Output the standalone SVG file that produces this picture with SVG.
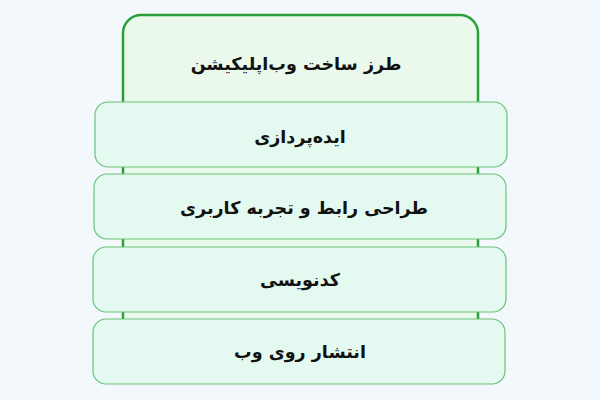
<svg xmlns="http://www.w3.org/2000/svg" width="600" height="400" viewBox="0 0 600 400">
<style>
.bg{fill:#f3f8fd}
.outer{fill:#eaf9ec;stroke:#2a9f3b;stroke-width:2.5}
.box{fill:#e4f9ef;stroke:#6cc27a;stroke-width:1.2}
.t{font-family:"DejaVu Sans",sans-serif;font-weight:bold;font-size:17.5px;fill:#111;text-anchor:middle;dominant-baseline:central;direction:rtl}
</style>
<rect class="bg" x="0" y="0" width="600" height="400"/>
<g id="container">
<rect class="outer" x="123" y="15" width="355" height="360" rx="18"/>
<text class="t" x="296" y="64">طرز ساخت وب‌اپلیکیشن</text>
</g>
<g id="connectors"></g>
<g id="n1">
<rect class="box" x="95" y="102" width="412" height="65" rx="13"/>
<text class="t" x="300" y="137">ایده‌پردازی</text>
</g>
<g id="n2">
<rect class="box" x="94" y="174" width="412" height="65" rx="13"/>
<text class="t" x="304" y="208">طراحی رابط و تجربه کاربری</text>
</g>
<g id="n3">
<rect class="box" x="93" y="247" width="413" height="65" rx="13"/>
<text class="t" x="300" y="280">کدنویسی</text>
</g>
<g id="n4">
<rect class="box" x="93" y="319" width="412" height="65" rx="13"/>
<text class="t" x="300" y="352">انتشار روی وب</text>
</g>
</svg>
